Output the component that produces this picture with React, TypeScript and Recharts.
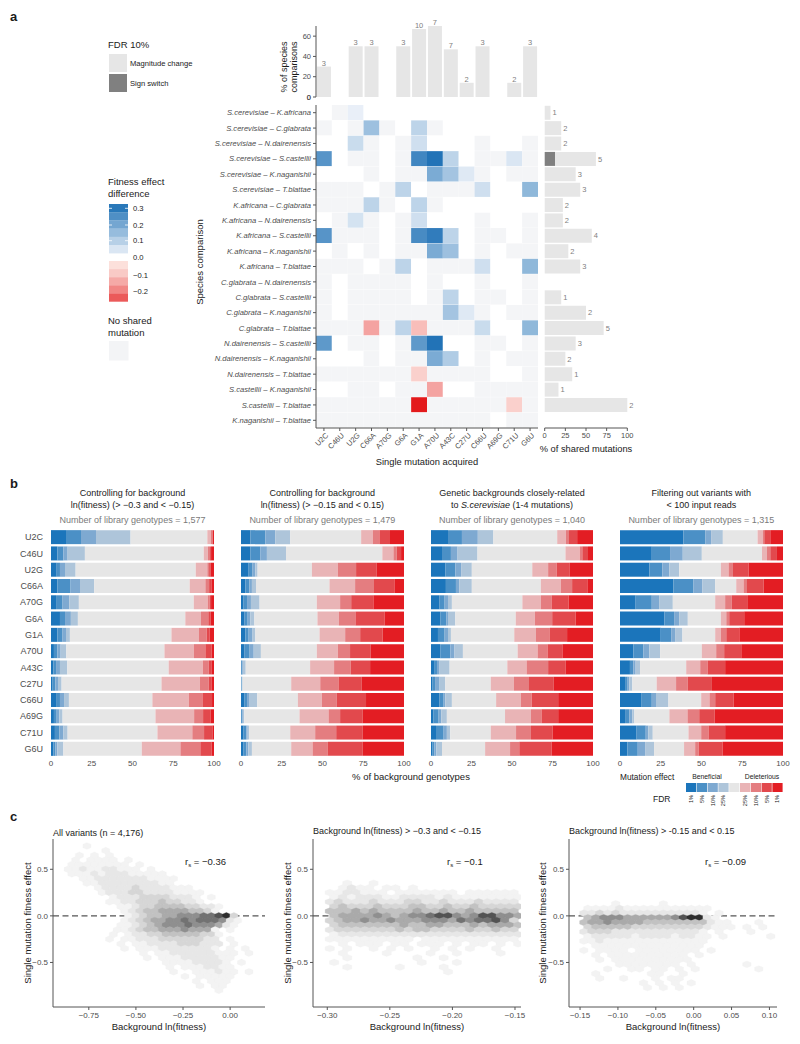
import React from 'react';
import {
  BarChart,
  Bar,
  XAxis,
  YAxis,
  Cell,
  LabelList,
  ScatterChart,
  Scatter,
  ReferenceLine,
} from 'recharts';

const FONT = '"Liberation Sans", Arial, Helvetica, sans-serif';
const TICK = '#4d4d4d';
const AXIS = '#555555';

// ---- panel a ----
const MUTATIONS = ['U2C', 'C46U', 'U2G', 'C66A', 'A70G', 'G6A', 'G1A', 'A70U', 'A43C', 'C27U', 'C66U', 'A69G', 'C71U', 'G6U'];
const SPECIES_PCT = [30, null, 50, 50, null, 50, 67, 70, 47, 14, 50, null, 14, 50];
const SPECIES_N = [3, null, 3, 3, null, 3, 10, 7, 7, 2, 3, null, 2, 3];
const SPECIES_TICKS = [0, 20, 40, 60];

const COMPARISONS = [
  'S.cerevisiae – K.africana',
  'S.cerevisiae – C.glabrata',
  'S.cerevisiae – N.dairenensis',
  'S.cerevisiae – S.castellii',
  'S.cerevisiae – K.naganishii',
  'S.cerevisiae – T.blattae',
  'K.africana – C.glabrata',
  'K.africana – N.dairenensis',
  'K.africana – S.castellii',
  'K.africana – K.naganishii',
  'K.africana – T.blattae',
  'C.glabrata – N.dairenensis',
  'C.glabrata – S.castellii',
  'C.glabrata – K.naganishii',
  'C.glabrata – T.blattae',
  'N.dairenensis – S.castellii',
  'N.dairenensis – K.naganishii',
  'N.dairenensis – T.blattae',
  'S.castellii – K.naganishii',
  'S.castellii – T.blattae',
  'K.naganishii – T.blattae',
];

// null = not tested (white), 0 = no shared mutation (grey)
const _ = null;
const g = 0;
const HEAT = [
  [_, g, 0.02, _, _, _, _, _, _, _, _, _, _, _],
  [g, _, g, 0.15, g, _, 0.1, g, _, _, _, _, _, _],
  [_, _, 0.08, g, _, g, 0.07, _, _, _, g, _, _, g],
  [0.25, _, g, g, _, g, 0.28, 0.32, 0.1, _, g, g, 0.05, g],
  [_, _, _, g, _, g, g, 0.2, 0.14, 0.04, g, _, g, g],
  [g, g, g, _, g, 0.1, _, g, g, g, 0.07, _, _, 0.17],
  [g, g, g, 0.1, g, _, 0.1, g, _, _, _, _, _, _],
  [_, g, 0.06, g, _, g, 0.07, _, _, _, g, _, _, g],
  [0.25, g, g, g, _, g, 0.27, 0.3, 0.1, _, g, g, _, g],
  [_, g, _, g, _, g, g, 0.2, 0.15, _, g, _, g, g],
  [g, g, g, _, g, 0.1, _, g, g, g, 0.07, _, _, 0.17],
  [g, _, g, g, g, g, _, g, _, _, g, _, _, g],
  [g, _, g, g, g, g, _, g, 0.1, _, g, g, _, g],
  [g, _, g, g, g, g, g, g, 0.14, 0.04, g, _, g, g],
  [g, g, g, -0.12, g, 0.1, -0.08, g, g, g, 0.08, _, _, 0.17],
  [0.24, _, g, g, _, g, 0.24, 0.32, _, _, g, g, _, g],
  [_, _, _, g, _, g, g, 0.2, 0.12, _, g, _, g, g],
  [g, g, g, g, g, g, -0.05, g, g, g, g, _, _, g],
  [_, _, g, g, _, g, g, -0.12, _, _, g, g, g, g],
  [g, g, g, g, g, g, -0.3, g, g, g, g, g, -0.05, g],
  [g, g, g, g, g, g, g, g, g, g, g, _, g, g],
];

const SHARED_PCT = [7, 20, 20, 62, 37.5, 43, 22, 22, 57, 28.6, 43, 0, 20, 50, 71.4, 37.5, 25, 33.3, 16.7, 100, 0];
const SIGN_PCT = [0, 0, 0, 12.5, 0, 0, 0, 0, 0, 0, 0, 0, 0, 0, 0, 0, 0, 0, 0, 0, 0];
const SHARED_N = [1, 2, 2, 5, 3, 3, 2, 2, 4, 2, 3, null, 1, 2, 5, 3, 2, 1, 1, 2, null];

// ---- panel b: cumulative % breakpoints (8 per row) ----
const BG_LOW = [
  [9.2, 18.4, 27.6, 48.8, 95.9, 98, 99, 99.4],
  [3.9, 7.6, 10.2, 20.8, 93.7, 96.3, 97.6, 98.2],
  [3.5, 5.5, 8.6, 15.1, 88.8, 95.9, 97, 98],
  [3.9, 12, 17.8, 26.5, 85.1, 94.7, 97, 98.4],
  [3.1, 7.1, 11.2, 17.1, 87.6, 96.1, 97.3, 98.2],
  [5.5, 8.6, 12.2, 16.5, 82.4, 92, 96.5, 98],
  [3.9, 7.1, 9.2, 11.6, 73.9, 90.8, 95.5, 97.3],
  [1.8, 3.9, 5.9, 9.4, 69.6, 87.6, 94.7, 98.6],
  [1.4, 3.1, 5.5, 10, 72.2, 93.1, 96.7, 98.4],
  [1, 2.7, 4.3, 6.5, 67.8, 91.4, 96.7, 98.4],
  [3.1, 5.5, 8, 11, 62.2, 84.5, 92.9, 98.8],
  [1.8, 3.5, 5.1, 7.1, 64.1, 87.8, 93.3, 97.8],
  [2.4, 5.1, 7.6, 10.2, 65.3, 86.7, 93.9, 99],
  [1.4, 2.7, 3.9, 7.6, 55.7, 79.4, 91.6, 98.6],
];
const BG_MID = [
  [5.7, 14.9, 21, 30.2, 73.7, 80.8, 84.9, 91.4],
  [5.7, 11.8, 15.9, 27.6, 86.7, 93.5, 95.5, 98.2],
  [4.7, 7.1, 8.8, 10.2, 43.5, 59.4, 70.6, 83.3],
  [2.7, 5.1, 6.7, 9.2, 54.3, 70, 81.6, 94.1],
  [1.6, 3.7, 6.1, 11.4, 46.5, 60.8, 67.6, 81.2],
  [2.2, 4.1, 5.7, 8.2, 46.9, 60, 70.2, 88],
  [2.7, 4.7, 7.1, 8.8, 48.2, 63.9, 73.1, 86.9],
  [2.2, 5.3, 7.8, 12.2, 46.5, 59.4, 66.9, 79.6],
  [0.4, 0.8, 1.2, 2.9, 42.4, 57.1, 67.3, 79.2],
  [0.2, 0.4, 0.6, 1, 30.8, 48.6, 59.8, 74.1],
  [2.2, 3.7, 5.3, 10, 34.9, 49.6, 58.8, 76.7],
  [0.4, 0.8, 1.2, 2, 35.9, 53.7, 60.8, 74.7],
  [1.6, 3.3, 4.1, 4.9, 30.2, 45.5, 58.4, 74.7],
  [1.6, 3.3, 4.5, 6.7, 30.8, 43.9, 53.3, 74.7],
];
const CLOSE = [
  [10.5, 19.1, 28.9, 38.5, 77.9, 83.2, 85.2, 90.2],
  [6.8, 12.3, 16.4, 28.7, 83, 91.8, 93.4, 96.9],
  [8.8, 15, 18.6, 25.2, 62.5, 72.3, 77.5, 85.7],
  [9.2, 15.4, 17.4, 25.2, 67.8, 80.1, 87.1, 96.5],
  [5.3, 8.4, 10.5, 12.9, 56.4, 67.8, 74.4, 85],
  [5.7, 9.4, 10.5, 15, 52.3, 64.1, 74.8, 89.3],
  [4.3, 8.4, 10.5, 12.3, 51.4, 64.8, 73.4, 84],
  [5.7, 11.9, 14.5, 19.7, 53.5, 65.8, 71.9, 81.1],
  [2.3, 3.7, 5.3, 11.5, 47.1, 59, 72.3, 83.2],
  [1, 2.5, 5.3, 8.8, 36.9, 51.2, 60.5, 75.8],
  [5.3, 7.8, 8.8, 12.9, 40.2, 55.5, 62.1, 78.5],
  [1.6, 4.7, 6.4, 9.8, 45.7, 61.7, 68.2, 78.5],
  [3.1, 7.8, 9.8, 11.9, 36.9, 52.5, 61.7, 75],
  [1, 2, 3.3, 6.8, 33.4, 48.8, 54.5, 74.4],
];
const FILTERED = [
  [38.9, 52.3, 55.9, 63.1, 84.4, 87.7, 88.5, 92.2],
  [19.5, 30.7, 38.5, 50.2, 87.1, 90.2, 92.2, 96.3],
  [18, 26, 30.3, 36.3, 61.9, 66.6, 69.3, 78.9],
  [32.8, 45.1, 50.6, 58.4, 71.3, 75.8, 77.9, 88.1],
  [9.6, 19.5, 24, 32.4, 58.4, 64.5, 68.6, 78.5],
  [27.3, 33.2, 36.3, 41.6, 61.9, 65.2, 67, 76.2],
  [25, 31.4, 33.8, 38.3, 58.4, 61.9, 65.2, 73.2],
  [8.2, 14.3, 18, 24.6, 50.2, 59, 63.9, 74.4],
  [6.1, 8.2, 9.6, 12.3, 40.6, 49.2, 53.7, 64.5],
  [3.1, 4.7, 5.7, 7.6, 22.5, 34.4, 41.6, 56.4],
  [13.3, 19.5, 22.1, 29.7, 49.8, 54.9, 58.4, 69.7],
  [3.1, 5.7, 7.6, 8.8, 30.3, 41.4, 48.6, 58],
  [10.2, 15.8, 17.4, 20.1, 42, 49.8, 54.3, 64.5],
  [4.5, 10.9, 15.4, 20.9, 39.3, 46.1, 48.2, 62.9],
];
const EFFECT_COLORS = ['#1b75bb', '#4b90c6', '#7ea9d1', '#aec5da', '#e6e6e6', '#e9b4b6', '#e47d80', '#e2494d', '#e31d23'];
const FDR_LABELS = ['1%', '5%', '10%', '25%', '', '25%', '10%', '5%', '1%'];

// ---- panel c: hexbin density (0-9 shade per hex, '.' = empty), rows top->bottom ----
const HEX_ALL = [
  '...1......................',
  '.....1....................',
  '..1.1.1...................',
  '.1.1111.1.................',
  '.11111111.1...............',
  '1121122111.1..............',
  '.1112122211111............',
  '..1122222221111...........',
  '...112222222211...........',
  '....1222232222111.........',
  '.....12223322221111.......',
  '......122233332221.1......',
  '......1122333433221.......',
  '.......11233444433221.....',
  '........1234455554431.....',
  '........123445566677893...',
  '........1234556676777621..',
  '.......1123456667666521...',
  '.......11234455565551.1...',
  '......1.1223344444331.....',
  '......1.1122233333322.1...',
  '.......1.112222333222.1...',
  '........1.11122222221.1.1.',
  '..........1.11222222111.1.',
  '...........1.1112222211...',
  '.............111122221.1..',
  '..............1.1112211...',
  '..............1..111211.1.',
  '................1.11111...',
  '.................1.111....',
  '..................1.11....',
  '....................1.....',
];
const HEX_MID = [
  '..1..1................',
  '.1211.11.1............',
  '1122111.1111111.111111',
  '1212221122221211111111',
  '2322232223322322232222',
  '3433343334433433433333',
  '4445454444544544544444',
  '4555565456678865688665',
  '3455655655566657677863',
  '3444444454455444545554',
  '2333333343443333433433',
  '1222222222222222222222',
  '1111111111.11111111111',
  '.1.111.11.111.1.11.1.1',
  '1.1..1.1.1..1.1.1..1..',
  '.1....1....1..1....1..',
  '..1.......1..1........',
  '1.........1...1.......',
  '..1.....1....1........',
  '.............1........',
];
const HEX_NEAR = [
  '....1.....1.............',
  '1111211111111111........',
  '2232322222222221.1......',
  '45666555555689921.......',
  '4556555544444444211...1.',
  '3444443333333332111.1.1.',
  '2333222222222221.1...1..',
  '1222221222212211.1.....1',
  '1121111111111111........',
  '.11111111111111.........',
  '1.1111.11111111.1.......',
  '.1.1111111111.1.........',
  '..1.1111111111..........',
  '....11111111.1......1...',
  '...1..11.11.1.1.......1.',
  '.1......11..1...........',
  '..1..1...1.11...........',
  '.......1.1.1.1..........',
  '........1.1.1...........',
];
const HEX_SHADES = ['#ffffff', '#f3f3f3', '#e7e7e7', '#d6d6d6', '#c2c2c2', '#aaaaaa', '#8f8f8f', '#727272', '#535353', '#2e2e2e'];

function mix(a: number[], b: number[], t: number) {
  const c = a.map((v, i) => Math.round(v + (b[i] - v) * t));
  return `rgb(${c[0]},${c[1]},${c[2]})`;
}

function heatColor(v: number | null) {
  if (v === null) return '#ffffff';
  if (v === 0) return '#f4f5f7';
  if (v > 0) return mix([240, 244, 250], [26, 110, 180], Math.pow(Math.min(1, v / 0.33), 1.2));
  return mix([253, 232, 227], [227, 26, 28], Math.pow(Math.min(1, -v / 0.3), 1.2));
}

function hexPoints(rows: string[], x0: number, dx: number, y0: number, dy: number) {
  const pts: { x: number; y: number; d: number }[] = [];
  rows.forEach((row, r) => {
    for (let c = 0; c < row.length; c++) {
      if (row[c] === '.') continue;
      pts.push({ x: x0 + c * dx + (r % 2 ? dx / 2 : 0), y: y0 - r * dy, d: Number(row[c]) });
    }
  });
  return pts;
}

const signed = (v: number, digits: number) => (v < 0 ? '−' : '') + Math.abs(v).toFixed(digits);

function MutTick(props: any) {
  const { x, y, payload } = props;
  return (
    <text x={x + 3} y={y + 1} transform={`rotate(-45 ${x + 3} ${y + 1})`} textAnchor="end" dy="0.35em" fontSize={7.5} fill={TICK}>
      {MUTATIONS[Math.floor(payload.value)]}
    </text>
  );
}

function SpeciesTick(props: any) {
  const { x, y, payload } = props;
  return (
    <text x={x} y={y} dy="0.35em" textAnchor="end" fontSize={7.6} fontStyle="italic" fill={TICK}>
      {payload.value}
    </text>
  );
}

function PctTick(props: any) {
  const { x, y, payload } = props;
  return (
    <text x={x} y={y} dy="0.35em" textAnchor="end" fontSize={7.5} fill={TICK}>
      {String(payload.value)}
    </text>
  );
}

function TopBars() {
  const data = MUTATIONS.map((m, i) => ({ m, pct: SPECIES_PCT[i], n: SPECIES_N[i] }));
  return (
    <BarChart width={268} height={93} data={data} margin={{ top: 16, right: 0, bottom: 6, left: 0 }} barCategoryGap="6%">
      <XAxis dataKey="m" hide />
      <YAxis
        type="number"
        domain={[0, 70]}
        ticks={SPECIES_TICKS}
        interval={0}
        width={46}
        tick={(p: any) => <PctTick {...p} />}
        tickSize={3}
        stroke={AXIS}
        allowDataOverflow
      />
      <Bar dataKey="pct" fill="#e6e6e6" isAnimationActive={false}>
        <LabelList dataKey="n" position="top" offset={1} fontSize={7.5} fill="#808080" />
      </Bar>
    </BarChart>
  );
}

function Heatmap() {
  const data = COMPARISONS.map((name) => {
    const row: Record<string, any> = { name };
    MUTATIONS.forEach((m) => (row[m] = 1));
    return row;
  });
  return (
    <BarChart layout="vertical" width={338} height={358} data={data} margin={{ top: 5, right: 0, bottom: 0, left: 0 }} barCategoryGap={0}>
      <XAxis type="number" domain={[0, 14]} ticks={MUTATIONS.map((_m, j) => j + 0.5)} interval={0} height={30} tickSize={3} stroke={AXIS} tick={(p: any) => <MutTick {...p} />} allowDataOverflow />
      <XAxis xAxisId="top" orientation="top" type="number" domain={[0, 14]} tick={false} tickLine={false} height={0} stroke={AXIS} />
      <YAxis type="category" dataKey="name" width={116} interval={0} tickSize={3} stroke={AXIS} tick={(p: any) => <SpeciesTick {...p} />} />
      <YAxis yAxisId="right" orientation="right" type="category" dataKey="name" width={0} tick={false} tickLine={false} stroke={AXIS} />
      {MUTATIONS.map((m, j) => (
        <Bar key={m} dataKey={m} stackId="h" isAnimationActive={false}>
          {HEAT.map((row, i) => (
            <Cell key={i} fill={heatColor(row[j])} />
          ))}
        </Bar>
      ))}
    </BarChart>
  );
}

function SharedBars() {
  const data = COMPARISONS.map((name, i) => ({ name, sign: SIGN_PCT[i], mag: SHARED_PCT[i] - SIGN_PCT[i], n: SHARED_N[i] }));
  return (
    <BarChart layout="vertical" width={100} height={358} data={data} margin={{ top: 5, right: 12.7, bottom: 0, left: 4.7 }} barCategoryGap="5%">
      <XAxis type="number" domain={[0, 100]} ticks={[0, 25, 50, 75, 100]} height={30} tickSize={3} stroke={AXIS} tick={{ fontSize: 7.5, fill: TICK }} interval={0} />
      <YAxis type="category" dataKey="name" hide />
      <Bar dataKey="sign" stackId="s" fill="#808080" isAnimationActive={false} />
      <Bar dataKey="mag" stackId="s" fill="#e6e6e6" isAnimationActive={false}>
        <LabelList dataKey="n" position="right" offset={2} fontSize={7.5} fill="#808080" />
      </Bar>
    </BarChart>
  );
}

function EffectBars({ breaks, labels, width, marginLeft }: { breaks: number[][]; labels: boolean; width: number; marginLeft: number }) {
  const data = MUTATIONS.map((name, i) => {
    const b = [0, ...breaks[i], 100];
    const row: Record<string, any> = { name };
    for (let k = 0; k < 9; k++) row['s' + k] = b[k + 1] - b[k];
    return row;
  });
  return (
    <BarChart layout="vertical" width={width} height={251} data={data} margin={{ top: 9, right: 8, bottom: 0, left: marginLeft }} barCategoryGap="7%">
      <XAxis type="number" domain={[0, 100]} ticks={[0, 25, 50, 75, 100]} height={14} axisLine={false} tickLine={false} tickSize={2} tickMargin={1} tick={{ fontSize: 8, fill: TICK }} interval={0} />
      <YAxis type="category" dataKey="name" hide={!labels} width={51} axisLine={false} tickLine={false} tick={{ fontSize: 9, fill: TICK }} interval={0} />
      {EFFECT_COLORS.map((c, k) => (
        <Bar key={k} dataKey={'s' + k} stackId="e" fill={c} isAnimationActive={false} />
      ))}
    </BarChart>
  );
}

function HexPlot(props: {
  rows: string[];
  x0: number;
  dx: number;
  y0: number;
  dy: number;
  width: number;
  xDomain: [number, number];
  xTicks: number[];
}) {
  const { rows, x0, dx, y0, dy, width, xDomain, xTicks } = props;
  const yDomain: [number, number] = [-0.978, 0.825];
  const plotW = width - 60;
  const plotH = 168;
  const hw = (dx * plotW) / (xDomain[1] - xDomain[0]) / 2 + 0.25;
  const R = (dy * plotH) / (yDomain[1] - yDomain[0]) / 1.5 + 0.25;
  const pts = hexPoints(rows, x0, dx, y0, dy);
  const hex = (p: any) => {
    const { cx, cy, payload } = p;
    const fill = HEX_SHADES[payload.d];
    const d = `M${cx},${cy - R}L${cx + hw},${cy - R / 2}L${cx + hw},${cy + R / 2}L${cx},${cy + R}L${cx - hw},${cy + R / 2}L${cx - hw},${cy - R / 2}Z`;
    return <path d={d} fill={fill} stroke={fill} strokeWidth={0.3} />;
  };
  return (
    <ScatterChart width={width} height={200} margin={{ top: 9, right: 7, bottom: 3, left: 3 }}>
      <XAxis type="number" dataKey="x" domain={xDomain} ticks={xTicks} interval={0} allowDataOverflow height={20} tickSize={3} stroke={AXIS} tick={{ fontSize: 8, fill: TICK }} tickFormatter={(v: number) => signed(v, 2)} />
      <YAxis type="number" dataKey="y" domain={yDomain} ticks={[-0.5, 0, 0.5]} interval={0} allowDataOverflow width={50} tickSize={3} stroke={AXIS} tick={{ fontSize: 8, fill: TICK }} tickFormatter={(v: number) => signed(v, 1)} />
      <Scatter data={pts} shape={hex} isAnimationActive={false} />
      <ReferenceLine y={0} stroke="#555555" strokeWidth={1.3} strokeDasharray="6 3.5" />
    </ScatterChart>
  );
}

function Rs({ x, y, value }: { x: number; y: number; value: string }) {
  return (
    <text x={x} y={y} fontSize={9.5} fill="#1a1a1a">
      r<tspan fontSize={6} dy={2}>s</tspan>
      <tspan dy={-2}> = {value}</tspan>
    </text>
  );
}

function Overlay() {
  const blueBar = [0.31, 0.26, 0.21, 0.16, 0.11, 0.05];
  const redBar = [-0.02, -0.06, -0.11, -0.16, -0.22];
  const barLabels = [
    ['0.3', 208.3],
    ['0.2', 225],
    ['0.1', 240.7],
    ['0.0', 257.7],
    ['−0.1', 275],
    ['−0.2', 291.7],
  ];
  const bTitles = [
    { cx: 132.5, l1: 'Controlling for background', l2: <tspan>ln(fitness) (&gt; −0.3 and &lt; −0.15)</tspan>, n: '1,577' },
    { cx: 322.3, l1: 'Controlling for background', l2: <tspan>ln(fitness) (&gt; −0.15 and &lt; 0.15)</tspan>, n: '1,479' },
    {
      cx: 512,
      l1: 'Genetic backgrounds closely-related',
      l2: (
        <>
          <tspan>to </tspan>
          <tspan fontStyle="italic">S.cerevisiae</tspan>
          <tspan> (1-4 mutations)</tspan>
        </>
      ),
      n: '1,040',
    },
    { cx: 701.3, l1: 'Filtering out variants with', l2: <tspan>&lt; 100 input reads</tspan>, n: '1,315' },
  ];
  return (
    <svg width={800} height={1044} style={{ position: 'absolute', left: 0, top: 0, pointerEvents: 'none' }} fontFamily={FONT} fill="#1a1a1a">
      <text x={10} y={21} fontSize={13} fontWeight="bold">a</text>
      <text x={10} y={488} fontSize={13} fontWeight="bold">b</text>
      <text x={10} y={821} fontSize={13} fontWeight="bold">c</text>

      {/* baseline label of the top bar axis */}
      <text x={311} y={99.6} fontSize={7.5} textAnchor="end" fill={TICK}>0</text>

      {/* panel a legends */}
      <text x={108} y={47.5} fontSize={9.5}>FDR 10%</text>
      <rect x={109} y={54} width={18} height={18} fill="#e6e6e6" />
      <text x={130} y={66} fontSize={7.6}>Magnitude change</text>
      <rect x={109} y={74} width={18} height={18} fill="#808080" />
      <text x={130} y={86} fontSize={7.6}>Sign switch</text>
      <text x={108} y={185} fontSize={9.5}>Fitness effect</text>
      <text x={108} y={196.5} fontSize={9.5}>difference</text>
      {blueBar.map((v, i) => (
        <rect key={'b' + i} x={109} y={204 + i * 8.2} width={19} height={8.4} fill={heatColor(v)} />
      ))}
      {redBar.map((v, i) => (
        <rect key={'r' + i} x={109} y={261 + i * 8.1} width={19} height={8.3} fill={heatColor(v)} />
      ))}
      {barLabels.map(([t, y]) => (
        <text key={t as string} x={133} y={(y as number) + 2.7} fontSize={7.6}>{t}</text>
      ))}
      {[208.3, 225, 240.7].map((y) => (
        <g key={y} stroke="#ffffff" strokeWidth={0.8}>
          <line x1={109} x2={112} y1={y} y2={y} />
          <line x1={125} x2={128} y1={y} y2={y} />
        </g>
      ))}
      <text x={108} y={324} fontSize={9.5}>No shared</text>
      <text x={108} y={335.5} fontSize={9.5}>mutation</text>
      <rect x={109} y={341} width={19.5} height={19.5} fill="#f3f4f6" />

      {/* panel a axis titles */}
      <text transform="rotate(-90 287 67)" x={287} y={67} fontSize={9} textAnchor="middle">% of species</text>
      <text transform="rotate(-90 297 67)" x={297} y={67} fontSize={9} textAnchor="middle">comparisons</text>
      <text transform="rotate(-90 203 262)" x={203} y={262} fontSize={9.5} textAnchor="middle">Species comparison</text>
      <text x={427} y={465} fontSize={9.3} textAnchor="middle">Single mutation acquired</text>
      <text x={586} y={452} fontSize={9.3} textAnchor="middle">% of shared mutations</text>

      {/* panel b titles */}
      {bTitles.map((t, i) => (
        <g key={i} textAnchor="middle" fontSize={9}>
          <text x={t.cx} y={496}>{t.l1}</text>
          <text x={t.cx} y={507.5}>{t.l2}</text>
          <text x={t.cx} y={523} fill="#7a7a7a">Number of library genotypes = {t.n}</text>
        </g>
      ))}
      <text x={411} y={780} fontSize={9.5} textAnchor="middle">% of background genotypes</text>

      {/* panel b legend */}
      <text x={620} y={779.5} fontSize={8.3}>Mutation effect</text>
      <text x={707} y={779} fontSize={6.8} textAnchor="middle">Beneficial</text>
      <text x={762} y={779} fontSize={6.8} textAnchor="middle">Deleterious</text>
      {EFFECT_COLORS.map((c, i) => (
        <rect key={c} x={686 + i * 10.8} y={783} width={10.2} height={9} fill={c} />
      ))}
      <text x={653} y={802} fontSize={8.5}>FDR</text>
      {FDR_LABELS.map((t, i) => (
        <text key={i} transform={`rotate(-90 ${686 + i * 10.8 + 7} 795)`} x={686 + i * 10.8 + 7} y={795} fontSize={5.6} textAnchor="end">
          {t}
        </text>
      ))}

      {/* panel c titles */}
      <text x={53} y={836} fontSize={9}>All variants (n = 4,176)</text>
      <text x={313} y={833.5} fontSize={9}>Background ln(fitness) &gt; −0.3 and &lt; −0.15</text>
      <text x={569} y={833.5} fontSize={9}>Background ln(fitness)  &gt; -0.15  and &lt; 0.15</text>
      <Rs x={185} y={865} value="−0.36" />
      <Rs x={447} y={865} value="−0.1" />
      <Rs x={705} y={865} value="−0.09" />
      {[27, 287, 542].map((x) => (
        <text key={x} transform={`rotate(-90 ${x + 4} 923)`} x={x + 4} y={923} fontSize={9.5} textAnchor="middle">
          Single mutation fitness effect
        </text>
      ))}
      {[159, 417, 673].map((x) => (
        <text key={x} x={x} y={1030} fontSize={9.5} textAnchor="middle">
          Background ln(fitness)
        </text>
      ))}
    </svg>
  );
}

const place = (left: number, top: number): React.CSSProperties => ({ position: 'absolute', left, top });

export default function App() {
  return (
    <div style={{ position: 'absolute', left: 0, top: 0, width: 800, height: 1044, background: '#ffffff', fontFamily: FONT, overflow: 'hidden' }}>
      <div style={place(270, 10)}>
        <TopBars />
      </div>
      <div style={place(200, 100)}>
        <Heatmap />
      </div>
      <div style={place(540, 100)}>
        <SharedBars />
      </div>

      <div style={place(0, 520)}>
        <EffectBars breaks={BG_LOW} labels width={222} marginLeft={0} />
      </div>
      <div style={place(233, 520)}>
        <EffectBars breaks={BG_MID} labels={false} width={179} marginLeft={8} />
      </div>
      <div style={place(423, 520)}>
        <EffectBars breaks={CLOSE} labels={false} width={178} marginLeft={8} />
      </div>
      <div style={place(612, 520)}>
        <EffectBars breaks={FILTERED} labels={false} width={179} marginLeft={8} />
      </div>

      <div style={place(0, 830)}>
        <HexPlot rows={HEX_ALL} x0={-0.88} dx={0.04} y0={0.75} dy={0.05} width={272} xDomain={[-0.94, 0.185]} xTicks={[-0.75, -0.5, -0.25, 0]} />
      </div>
      <div style={place(260, 830)}>
        <HexPlot rows={HEX_MID} x0={-0.298} dx={0.007} y0={0.35} dy={0.05} width={268} xDomain={[-0.3114, -0.1452]} xTicks={[-0.3, -0.25, -0.2, -0.15]} />
      </div>
      <div style={place(516, 830)}>
        <HexPlot rows={HEX_NEAR} x0={-0.145} dx={0.0105} y0={0.13} dy={0.05} width={268} xDomain={[-0.1646, 0.11]} xTicks={[-0.15, -0.1, -0.05, 0, 0.05, 0.1]} />
      </div>

      <Overlay />
    </div>
  );
}
